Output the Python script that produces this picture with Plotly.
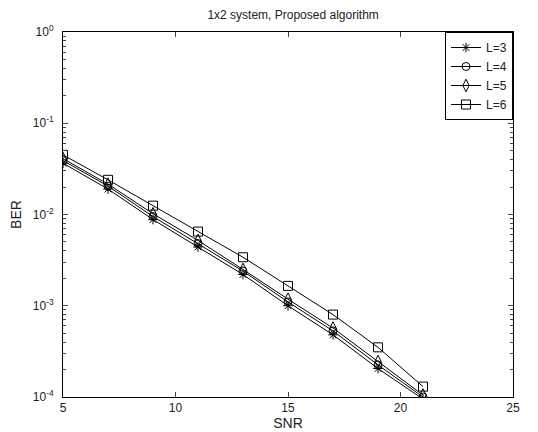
import plotly.graph_objects as go

snr = [5, 7, 9, 11, 13, 15, 17, 19, 21]
ber_L3 = [0.0365, 0.0190, 0.0088, 0.0044, 0.0022, 0.00100, 0.00048, 0.000205, 0.000095]
ber_L4 = [0.0390, 0.0205, 0.0095, 0.0048, 0.0024, 0.00110, 0.00053, 0.000225, 0.000100]
ber_L5 = [0.0410, 0.0215, 0.0102, 0.0052, 0.0025, 0.00118, 0.00057, 0.000245, 0.000105]
ber_L6 = [0.0450, 0.0240, 0.0125, 0.0065, 0.0034, 0.00165, 0.00080, 0.000350, 0.000130]

series_names = ["L=3", "L=4", "L=5", "L=6"]
series_data = [ber_L3, ber_L4, ber_L5, ber_L6]
symbols = ["asterisk-open", "circle-open", "diamond-tall-open", "square-open"]
sizes = [8, 8, 9, 9]

x_ticks = [5, 10, 15, 20, 25]
y_tickvals = [1, 0.1, 0.01, 0.001, 0.0001]
y_ticktext = ["10<sup>0</sup>", "10<sup>-1</sup>", "10<sup>-2</sup>", "10<sup>-3</sup>", "10<sup>-4</sup>"]
y_minor = [m * 10.0 ** e for e in range(-4, 0) for m in range(2, 10)]

fig = go.Figure()
for name, data, sym, sz in zip(series_names, series_data, symbols, sizes):
    fig.add_trace(go.Scatter(
        x=snr, y=data, name=name, mode="lines+markers",
        line=dict(color="black", width=1),
        marker=dict(symbol=sym, size=sz, color="black", line=dict(color="black", width=1)),
    ))

font = dict(family="Liberation Sans, Arial, sans-serif", size=12, color="#222")

fig.update_layout(
    width=530, height=424,
    margin=dict(l=55, r=25, t=24, b=35),
    paper_bgcolor="white", plot_bgcolor="white",
    font=font,
    title=dict(text="1x2 system, Proposed algorithm", x=0.538, xanchor="center",
               y=0.995, yanchor="top", font=dict(size=12)),
    showlegend=True,
    legend=dict(x=1, y=1, xanchor="right", yanchor="top",
                bgcolor="white", bordercolor="black", borderwidth=1,
                font=dict(size=12), tracegroupgap=0, itemwidth=30),
    xaxis=dict(range=[5, 25], tickvals=x_ticks, ticks="inside", ticklen=5,
               showline=True, linecolor="black", linewidth=1, mirror="ticks",
               showgrid=False, zeroline=False, automargin=False,
               title=dict(text="SNR", standoff=2)),
    yaxis=dict(type="log", range=[-4, 0], tickvals=y_tickvals, ticktext=y_ticktext,
               ticks="inside", ticklen=5, ticklabelstandoff=6,
               minor=dict(ticks="inside", ticklen=3, showgrid=False, tickvals=y_minor),
               showline=True, linecolor="black", linewidth=1, mirror="ticks",
               showgrid=False, zeroline=False, automargin=False,
               title=dict(text="BER", standoff=8)),
)

fig.write_html("out.html")
